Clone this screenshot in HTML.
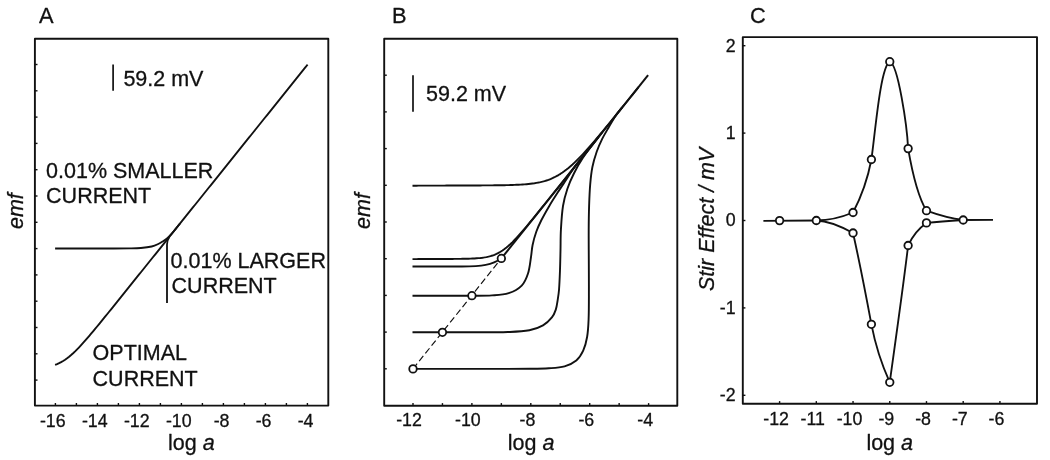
<!DOCTYPE html>
<html><head><meta charset="utf-8"><title>Figure</title>
<style>
html,body{margin:0;padding:0;background:#fff;}
svg{display:block;will-change:transform;}
text{font-family:"Liberation Sans",sans-serif;fill:#111;stroke:#111;stroke-width:0.3px;}
</style></head>
<body>
<svg width="1050" height="460" viewBox="0 0 1050 460" stroke="#111" stroke-linecap="butt" stroke-linejoin="round">
<rect x="0" y="0" width="1050" height="460" fill="#fff" stroke="none"/>
<rect x="34.9" y="38.7" width="293.4" height="366.9" fill="none" stroke-width="1.9"/>
<line x1="55.4" y1="405.6" x2="55.4" y2="403" stroke-width="1.4" />
<line x1="76.4" y1="405.6" x2="76.4" y2="403" stroke-width="1.4" />
<line x1="97.4" y1="405.6" x2="97.4" y2="403" stroke-width="1.4" />
<line x1="118.4" y1="405.6" x2="118.4" y2="403" stroke-width="1.4" />
<line x1="139.4" y1="405.6" x2="139.4" y2="403" stroke-width="1.4" />
<line x1="160.4" y1="405.6" x2="160.4" y2="403" stroke-width="1.4" />
<line x1="181.4" y1="405.6" x2="181.4" y2="403" stroke-width="1.4" />
<line x1="202.4" y1="405.6" x2="202.4" y2="403" stroke-width="1.4" />
<line x1="223.4" y1="405.6" x2="223.4" y2="403" stroke-width="1.4" />
<line x1="244.4" y1="405.6" x2="244.4" y2="403" stroke-width="1.4" />
<line x1="265.4" y1="405.6" x2="265.4" y2="403" stroke-width="1.4" />
<line x1="286.4" y1="405.6" x2="286.4" y2="403" stroke-width="1.4" />
<line x1="307.4" y1="405.6" x2="307.4" y2="403" stroke-width="1.4" />
<line x1="34.9" y1="64.5" x2="37.5" y2="64.5" stroke-width="1.4" />
<line x1="34.9" y1="90.8" x2="37.5" y2="90.8" stroke-width="1.4" />
<line x1="34.9" y1="117.1" x2="37.5" y2="117.1" stroke-width="1.4" />
<line x1="34.9" y1="143.4" x2="37.5" y2="143.4" stroke-width="1.4" />
<line x1="34.9" y1="169.7" x2="37.5" y2="169.7" stroke-width="1.4" />
<line x1="34.9" y1="196" x2="37.5" y2="196" stroke-width="1.4" />
<line x1="34.9" y1="222.3" x2="37.5" y2="222.3" stroke-width="1.4" />
<line x1="34.9" y1="248.6" x2="37.5" y2="248.6" stroke-width="1.4" />
<line x1="34.9" y1="274.9" x2="37.5" y2="274.9" stroke-width="1.4" />
<line x1="34.9" y1="301.2" x2="37.5" y2="301.2" stroke-width="1.4" />
<line x1="34.9" y1="327.5" x2="37.5" y2="327.5" stroke-width="1.4" />
<line x1="34.9" y1="353.8" x2="37.5" y2="353.8" stroke-width="1.4" />
<line x1="34.9" y1="380.1" x2="37.5" y2="380.1" stroke-width="1.4" />
<text x="52.8" y="426.6" font-size="17.8" text-anchor="middle" >-16</text>
<text x="94.8" y="426.6" font-size="17.8" text-anchor="middle" >-14</text>
<text x="136.8" y="426.6" font-size="17.8" text-anchor="middle" >-12</text>
<text x="178.8" y="426.6" font-size="17.8" text-anchor="middle" >-10</text>
<text x="221.6" y="426.6" font-size="17.8" text-anchor="middle" >-8</text>
<text x="263.6" y="426.6" font-size="17.8" text-anchor="middle" >-6</text>
<text x="305.6" y="426.6" font-size="17.8" text-anchor="middle" >-4</text>
<text x="168" y="449.7" font-size="21.5" text-anchor="start" >log <tspan font-style="italic">a</tspan></text>
<text transform="translate(23.3,211.1) rotate(-90)" font-size="21.5" font-style="italic" text-anchor="middle">emf</text>
<text x="39" y="23.1" font-size="21.8" text-anchor="start" >A</text>
<line x1="113.1" y1="64.4" x2="113.1" y2="90.7" stroke-width="1.7" />
<text x="123.4" y="86.4" font-size="21.5" text-anchor="start" >59.2 mV</text>
<text x="46.1" y="177.5" font-size="21.5" text-anchor="start" >0.01% SMALLER</text>
<text x="46.1" y="203" font-size="21.5" text-anchor="start" >CURRENT</text>
<text x="170.6" y="267.5" font-size="21.5" text-anchor="start" >0.01% LARGER</text>
<text x="171.6" y="292.8" font-size="21.5" text-anchor="start" >CURRENT</text>
<text x="92.6" y="359.5" font-size="21.5" text-anchor="start" >OPTIMAL</text>
<text x="92.6" y="385.6" font-size="21.5" text-anchor="start" >CURRENT</text>
<path d="M55.1,364.85 L57.1,364.08 L59.1,363.2 L61.1,362.18 L63.1,361.03 L65.1,359.74 L67.1,358.32 L69.1,356.76 L71.1,355.08 L73.1,353.29 L75.1,351.39 L77.1,349.4 L79.1,347.32 L81.1,345.18 L83.1,342.97 L85.1,340.71 L87.1,338.42 L89.1,336.08 L91.1,333.72 L93.1,331.33 L95.1,328.92 L97.1,326.5 L99.1,324.06 L101.1,321.61 L103.1,319.16 L105.1,316.7 L107.1,314.23 L109.1,311.76 L111.1,309.28 L113.1,306.8 L115.1,304.32 L117.1,301.84 L119.1,299.35 L121.1,296.87 L123.1,294.38 L125.1,291.89 L127.1,289.4 L129.1,286.91 L131.1,284.42 L133.1,281.93 L135.1,279.44 L137.1,276.95 L139.1,274.46 L141.1,271.97 L143.1,269.48 L145.1,266.99 L147.1,264.5 L149.1,262.01 L151.1,259.52 L153.1,257.03 L155.1,254.54 L157.1,252.05 L159.1,249.56 L161.1,247.07 L163.1,244.57 L165.1,242.08 L167.1,239.59 L169.1,237.1 L171.1,234.61 L173.1,232.12 L175.1,229.63 L177.1,227.14 L179.1,224.65 L181.1,222.16 L183.1,219.66 L185.1,217.17 L187.1,214.68 L189.1,212.19 L191.1,209.7 L193.1,207.21 L195.1,204.72 L197.1,202.23 L199.1,199.74 L201.1,197.25 L203.1,194.75 L205.1,192.26 L207.1,189.77 L209.1,187.28 L211.1,184.79 L213.1,182.3 L215.1,179.81 L217.1,177.32 L219.1,174.83 L221.1,172.34 L223.1,169.84 L225.1,167.35 L227.1,164.86 L229.1,162.37 L231.1,159.88 L233.1,157.39 L235.1,154.9 L237.1,152.41 L239.1,149.92 L241.1,147.43 L243.1,144.93 L245.1,142.44 L247.1,139.95 L249.1,137.46 L251.1,134.97 L253.1,132.48 L255.1,129.99 L257.1,127.5 L259.1,125.01 L261.1,122.52 L263.1,120.02 L265.1,117.53 L267.1,115.04 L269.1,112.55 L271.1,110.06 L273.1,107.57 L275.1,105.08 L277.1,102.59 L279.1,100.1 L281.1,97.61 L283.1,95.11 L285.1,92.62 L287.1,90.13 L289.1,87.64 L291.1,85.15 L293.1,82.66 L295.1,80.17 L297.1,77.68 L299.1,75.19 L301.1,72.7 L303.1,70.2 L305.1,67.71 L307.1,65.22 L307.6,64.6" fill="none" stroke-width="1.9"/>
<path d="M55.1,248.5 C73.4,248.5 91.7,248.52 110,248.5 C116.67,248.49 123.33,248.51 130,248.4 C133.64,248.34 137.28,248.32 140.9,248 C144.52,247.68 148.16,247.31 151.7,246.5 C153.99,245.97 156.16,244.98 158.3,244 C159.81,243.31 161.21,242.4 162.6,241.5 C164.11,240.53 165.63,239.56 167,238.4 C168.54,237.09 169.93,235.6 171.3,234.1 C172.84,232.42 174.25,230.64 175.7,228.88 C177.15,227.11 178.57,225.31 180,223.53" fill="none" stroke-width="1.9"/>
<path d="M167,303 L167,244.5 Q167,240.6 169.2,236.98" fill="none" stroke-width="1.8"/>
<rect x="384.2" y="38.7" width="293.1" height="367" fill="none" stroke-width="1.9"/>
<line x1="413" y1="405.7" x2="413" y2="403.1" stroke-width="1.4" />
<line x1="442.45" y1="405.7" x2="442.45" y2="403.1" stroke-width="1.4" />
<line x1="471.9" y1="405.7" x2="471.9" y2="403.1" stroke-width="1.4" />
<line x1="501.35" y1="405.7" x2="501.35" y2="403.1" stroke-width="1.4" />
<line x1="530.8" y1="405.7" x2="530.8" y2="403.1" stroke-width="1.4" />
<line x1="560.25" y1="405.7" x2="560.25" y2="403.1" stroke-width="1.4" />
<line x1="589.7" y1="405.7" x2="589.7" y2="403.1" stroke-width="1.4" />
<line x1="619.15" y1="405.7" x2="619.15" y2="403.1" stroke-width="1.4" />
<line x1="648.6" y1="405.7" x2="648.6" y2="403.1" stroke-width="1.4" />
<line x1="384.2" y1="75.2" x2="386.8" y2="75.2" stroke-width="1.4" />
<line x1="384.2" y1="111.9" x2="386.8" y2="111.9" stroke-width="1.4" />
<line x1="384.2" y1="148.6" x2="386.8" y2="148.6" stroke-width="1.4" />
<line x1="384.2" y1="185.3" x2="386.8" y2="185.3" stroke-width="1.4" />
<line x1="384.2" y1="222" x2="386.8" y2="222" stroke-width="1.4" />
<line x1="384.2" y1="258.7" x2="386.8" y2="258.7" stroke-width="1.4" />
<line x1="384.2" y1="295.4" x2="386.8" y2="295.4" stroke-width="1.4" />
<line x1="384.2" y1="332.1" x2="386.8" y2="332.1" stroke-width="1.4" />
<line x1="384.2" y1="368.8" x2="386.8" y2="368.8" stroke-width="1.4" />
<text x="409" y="426.4" font-size="17.8" text-anchor="middle" >-12</text>
<text x="467.9" y="426.4" font-size="17.8" text-anchor="middle" >-10</text>
<text x="527.4" y="426.4" font-size="17.8" text-anchor="middle" >-8</text>
<text x="586.3" y="426.4" font-size="17.8" text-anchor="middle" >-6</text>
<text x="645.2" y="426.4" font-size="17.8" text-anchor="middle" >-4</text>
<text x="507.8" y="449.6" font-size="21.5" text-anchor="start" >log <tspan font-style="italic">a</tspan></text>
<text transform="translate(369.8,211.0) rotate(-90)" font-size="21.5" font-style="italic" text-anchor="middle">emf</text>
<text x="392" y="23.3" font-size="21.8" text-anchor="start" >B</text>
<line x1="413" y1="75.3" x2="413" y2="111.8" stroke-width="1.7" />
<text x="426" y="101.4" font-size="21.5" text-anchor="start" >59.2 mV</text>
<line x1="413" y1="368.86" x2="501.5" y2="258.28" stroke-width="1.15" stroke-dasharray="6.6,3.3"/>
<line x1="501.5" y1="258.28" x2="648.1" y2="75.1" stroke-width="2.0" />
<path d="M412.5,185.69 L414.5,185.68 L416.5,185.68 L418.5,185.67 L420.5,185.66 L422.5,185.66 L424.5,185.65 L426.5,185.64 L428.5,185.64 L430.5,185.63 L432.5,185.62 L434.5,185.62 L436.5,185.61 L438.5,185.6 L440.5,185.6 L442.5,185.59 L444.5,185.58 L446.5,185.57 L448.5,185.57 L450.5,185.56 L452.5,185.55 L454.5,185.55 L456.5,185.54 L458.5,185.53 L460.5,185.52 L462.5,185.52 L464.5,185.51 L466.5,185.5 L468.5,185.49 L470.5,185.48 L472.5,185.47 L474.5,185.46 L476.5,185.45 L478.5,185.44 L480.5,185.43 L482.5,185.42 L484.5,185.41 L486.5,185.39 L488.5,185.38 L490.5,185.36 L492.5,185.34 L494.5,185.32 L496.5,185.3 L498.5,185.27 L500.5,185.25 L502.5,185.21 L504.5,185.18 L506.5,185.14 L508.5,185.09 L510.5,185.03 L512.5,184.97 L514.5,184.9 L516.5,184.82 L518.5,184.73 L520.5,184.62 L522.5,184.5 L524.5,184.35 L526.5,184.19 L528.5,184 L530.5,183.78 L532.5,183.53 L534.5,183.25 L536.5,182.92 L538.5,182.55 L540.5,182.12 L542.5,181.64 L544.5,181.09 L546.5,180.48 L548.5,179.79 L550.5,179.02 L552.5,178.17 L554.5,177.22 L556.5,176.19 L558.5,175.06 L560.5,173.83 L562.5,172.5 L564.5,171.08 L566.5,169.56 L568.5,167.95 L570.5,166.25 L572.5,164.48 L574.5,162.62 L576.5,160.69 L578.5,158.7 L580.5,156.65 L582.5,154.54 L584.5,152.38 L586.5,150.18 L588.5,147.94 L590.5,145.67 L592.5,143.36 L594.5,141.04 L596.5,138.68 L598.5,136.31 L600.5,133.92 L602.5,131.51 L604.5,129.09 L606.5,126.66 L608.5,124.23 L610.5,121.78 L612.5,119.32 L614.5,116.86 L616.5,114.39 L618.5,111.92 L620.5,109.45 L622.5,106.97 L624.5,104.49 L626.5,102 L628.5,99.52 L630.5,97.03 L632.5,94.54 L634.5,92.05 L636.5,89.55 L638.5,87.06" fill="none" stroke-width="1.9"/>
<path d="M412.5,259.09 L414.5,259.09 L416.5,259.08 L418.5,259.07 L420.5,259.07 L422.5,259.06 L424.5,259.05 L426.5,259.05 L428.5,259.04 L430.5,259.03 L432.5,259.02 L434.5,259.02 L436.5,259.01 L438.5,259 L440.5,258.99 L442.5,258.98 L444.5,258.97 L446.5,258.96 L448.5,258.95 L450.5,258.94 L452.5,258.93 L454.5,258.91 L456.5,258.89 L458.5,258.87 L460.5,258.84 L462.5,258.81 L464.5,258.78 L466.5,258.73 L468.5,258.68 L470.5,258.61 L472.5,258.53 L474.5,258.43 L476.5,258.3 L478.5,258.15 L480.5,257.96 L482.5,257.72 L484.5,257.43 L486.5,257.08 L488.5,256.65 L490.5,256.14 L492.5,255.52 L494.5,254.78 L496.5,253.93 L498.5,252.93 L500.5,251.79 L502.5,250.51 L504.5,249.08 L506.5,247.51 L508.5,245.81 L510.5,243.99 L512.5,242.06 L514.5,240.03 L516.5,237.92 L518.5,235.74 L520.5,233.5 L522.5,231.21 L524.5,228.88 L526.5,226.51 L528.5,224.12 L530.5,221.71 L532.5,219.28 L534.5,216.83 L536.5,214.38 L538.5,211.91 L540.5,209.44 L542.5,206.96 L544.5,204.48 L546.5,202 L548.5,199.51 L550.5,197.02 L552.5,194.53 L554.5,192.03 L556.5,189.54 L558.5,187.04 L560.5,184.55 L562.5,182.05 L564.5,179.55 L566.5,177.05 L568.5,174.56 L570.5,172.06 L572.5,169.56 L574.5,167.06 L576.5,164.56 L578.5,162.06 L580.5,159.57 L582.5,157.07 L584.5,154.57 L586.5,152.07 L588.5,149.57 L590.5,147.07 L592.5,144.57 L594.5,142.07 L596.5,139.57 L598.5,137.08" fill="none" stroke-width="1.9"/>
<path d="M412.5,266.5 L462,266.5 C482,266.5 492,265 501.6,258.15" fill="none" stroke-width="1.9"/>
<path d="M412.5,295.7 C431.67,295.7 450.83,295.77 470,295.7 C477.33,295.67 484.68,295.87 492,295.4 C497.6,295.04 503.37,294.96 508.7,293.2 C513.47,291.63 518.19,289.19 521.7,285.6 C524.88,282.35 526.59,277.82 528,273.5 C529.73,268.18 530.11,262.52 531,257 C531.64,253.02 531.78,248.95 532.6,245 C533.52,240.6 534.71,236.24 536.2,232 C537.58,228.06 539.32,224.24 541.2,220.5 C543.7,215.53 546.48,210.7 549.3,205.9 C551.91,201.46 554.72,197.14 557.5,192.8 C559.79,189.24 562.17,185.74 564.5,182.2 C567.67,177.37 570.67,172.42 574,167.69 C575.84,165.07 578,162.69 580,160.19" fill="none" stroke-width="1.9"/>
<path d="M412.5,332.3 C431.67,332.3 450.83,332.36 470,332.3 C482.67,332.26 495.34,332.43 508,332 C515.15,331.76 522.37,331.63 529.4,330.3 C534.14,329.41 538.82,327.8 543,325.4 C546.46,323.42 549.39,320.5 551.9,317.4 C553.73,315.14 554.89,312.36 555.8,309.6 C556.84,306.44 557.16,303.08 557.7,299.8 C558.23,296.55 558.75,293.29 559,290 C559.51,283.34 559.75,276.67 560,270 C560.25,263.34 560.35,256.67 560.5,250 C560.65,243.33 560.52,236.66 560.9,230 C561.36,221.98 561.75,213.93 563,206 C563.93,200.12 565.51,194.34 567.4,188.7 C569.15,183.48 571.44,178.43 573.9,173.5 C576.51,168.28 579.37,163.16 582.6,158.3 C586.75,152.05 591.47,146.18 596,140.2 C597.93,137.65 600,135.2 602,132.7" fill="none" stroke-width="1.9"/>
<path d="M417,368.9 C438,368.9 459,368.92 480,368.9 C496.67,368.89 513.33,368.95 530,368.8 C536.3,368.75 542.61,368.75 548.9,368.3 C554.16,367.92 559.53,367.74 564.6,366.3 C568.79,365.11 572.96,363.3 576.3,360.5 C579.36,357.93 581.53,354.33 583.2,350.7 C585.18,346.39 586.29,341.68 587.1,337 C588.1,331.2 588.37,325.28 588.6,319.4 C588.98,309.61 588.87,299.8 588.9,290 C588.93,280 588.83,270 588.8,260 C588.77,250 588.64,240 588.7,230 C588.74,222 588.84,214 589.1,206 C589.34,198.76 589.59,191.52 590.2,184.3 C590.69,178.51 591.26,172.7 592.4,167 C593.44,161.8 594.96,156.7 596.7,151.7 C598.23,147.32 600.16,143.07 602.2,138.9 C604,135.23 606.14,131.73 608.2,128.2 C610.74,123.84 613.18,119.4 616,115.21 C617.79,112.55 620,110.21 622,107.71" fill="none" stroke-width="1.9"/>
<circle cx="413" cy="368.9" r="3.75" fill="#fff" stroke-width="1.8"/>
<circle cx="442.45" cy="332.3" r="3.75" fill="#fff" stroke-width="1.8"/>
<circle cx="471.9" cy="295.7" r="3.75" fill="#fff" stroke-width="1.8"/>
<circle cx="501.35" cy="258.46" r="3.75" fill="#fff" stroke-width="1.8"/>
<rect x="742.8" y="37.1" width="294.2" height="366.6" fill="none" stroke-width="1.9"/>
<line x1="779.6" y1="403.7" x2="779.6" y2="401.1" stroke-width="1.4" />
<line x1="816.32" y1="403.7" x2="816.32" y2="401.1" stroke-width="1.4" />
<line x1="853.04" y1="403.7" x2="853.04" y2="401.1" stroke-width="1.4" />
<line x1="889.76" y1="403.7" x2="889.76" y2="401.1" stroke-width="1.4" />
<line x1="926.48" y1="403.7" x2="926.48" y2="401.1" stroke-width="1.4" />
<line x1="963.2" y1="403.7" x2="963.2" y2="401.1" stroke-width="1.4" />
<line x1="999.92" y1="403.7" x2="999.92" y2="401.1" stroke-width="1.4" />
<line x1="742.8" y1="45.7" x2="745.4" y2="45.7" stroke-width="1.4" />
<text x="735.6" y="51.6" font-size="17.8" text-anchor="end" >2</text>
<line x1="742.8" y1="133.1" x2="745.4" y2="133.1" stroke-width="1.4" />
<text x="735.6" y="139" font-size="17.8" text-anchor="end" >1</text>
<line x1="742.8" y1="220.5" x2="745.4" y2="220.5" stroke-width="1.4" />
<text x="735.6" y="226.4" font-size="17.8" text-anchor="end" >0</text>
<line x1="742.8" y1="307.9" x2="745.4" y2="307.9" stroke-width="1.4" />
<text x="735.6" y="313.8" font-size="17.8" text-anchor="end" >-1</text>
<line x1="742.8" y1="395.3" x2="745.4" y2="395.3" stroke-width="1.4" />
<text x="735.6" y="401.2" font-size="17.8" text-anchor="end" >-2</text>
<text x="776.1" y="425.4" font-size="17.8" text-anchor="middle" >-12</text>
<text x="812.82" y="425.4" font-size="17.8" text-anchor="middle" >-11</text>
<text x="849.54" y="425.4" font-size="17.8" text-anchor="middle" >-10</text>
<text x="886.36" y="425.4" font-size="17.8" text-anchor="middle" >-9</text>
<text x="923.08" y="425.4" font-size="17.8" text-anchor="middle" >-8</text>
<text x="959.8" y="425.4" font-size="17.8" text-anchor="middle" >-7</text>
<text x="996.52" y="425.4" font-size="17.8" text-anchor="middle" >-6</text>
<text x="866.4" y="449.6" font-size="21.5" text-anchor="start" >log <tspan font-style="italic">a</tspan></text>
<text transform="translate(713.8,219.3) rotate(-90)" font-size="21.5" font-style="italic" text-anchor="middle">Stir Effect / mV</text>
<text x="750" y="23.3" font-size="21.8" text-anchor="start" >C</text>
<path d="M763.4,220.8 L816.32,220.5 C830.32,220.3 843.04,216.7 853.04,212.5 C858.04,203 867.1,182 871.4,159.5 C875.1,133.9 880.4,66.3 889.76,61.7 C898.0,64.3 907.0,125.4 908.12,148.6 C912.12,171.6 918.48,197.7 926.48,210.7 C938.48,215.1 949.2,218.4 963.2,220 L993,219.8" fill="none" stroke-width="1.85"/>
<path d="M816.32,220.5 C830.32,220.9 843.04,227.5 853.04,233 C858.64,258 865.8,294.3 871.4,324.3 C875.6,346.3 882.56,366.3 889.76,382.3 C895.26,342.3 903.12,287.5 908.12,245.5 C912.12,236.5 918.48,228.5 926.48,222.9 C938.48,221.7 951.2,220.8 963.2,220" fill="none" stroke-width="1.85"/>
<circle cx="779.6" cy="220.6" r="3.75" fill="#fff" stroke-width="1.8"/>
<circle cx="816.32" cy="220.5" r="3.75" fill="#fff" stroke-width="1.8"/>
<circle cx="853.04" cy="212.5" r="3.75" fill="#fff" stroke-width="1.8"/>
<circle cx="871.4" cy="159.5" r="3.75" fill="#fff" stroke-width="1.8"/>
<circle cx="889.76" cy="61.7" r="3.75" fill="#fff" stroke-width="1.8"/>
<circle cx="908.12" cy="148.6" r="3.75" fill="#fff" stroke-width="1.8"/>
<circle cx="926.48" cy="210.7" r="3.75" fill="#fff" stroke-width="1.8"/>
<circle cx="963.2" cy="220" r="3.75" fill="#fff" stroke-width="1.8"/>
<circle cx="853.04" cy="233" r="3.75" fill="#fff" stroke-width="1.8"/>
<circle cx="871.4" cy="324.3" r="3.75" fill="#fff" stroke-width="1.8"/>
<circle cx="889.76" cy="382.3" r="3.75" fill="#fff" stroke-width="1.8"/>
<circle cx="908.12" cy="245.5" r="3.75" fill="#fff" stroke-width="1.8"/>
<circle cx="926.48" cy="222.9" r="3.75" fill="#fff" stroke-width="1.8"/>
</svg>
</body></html>
